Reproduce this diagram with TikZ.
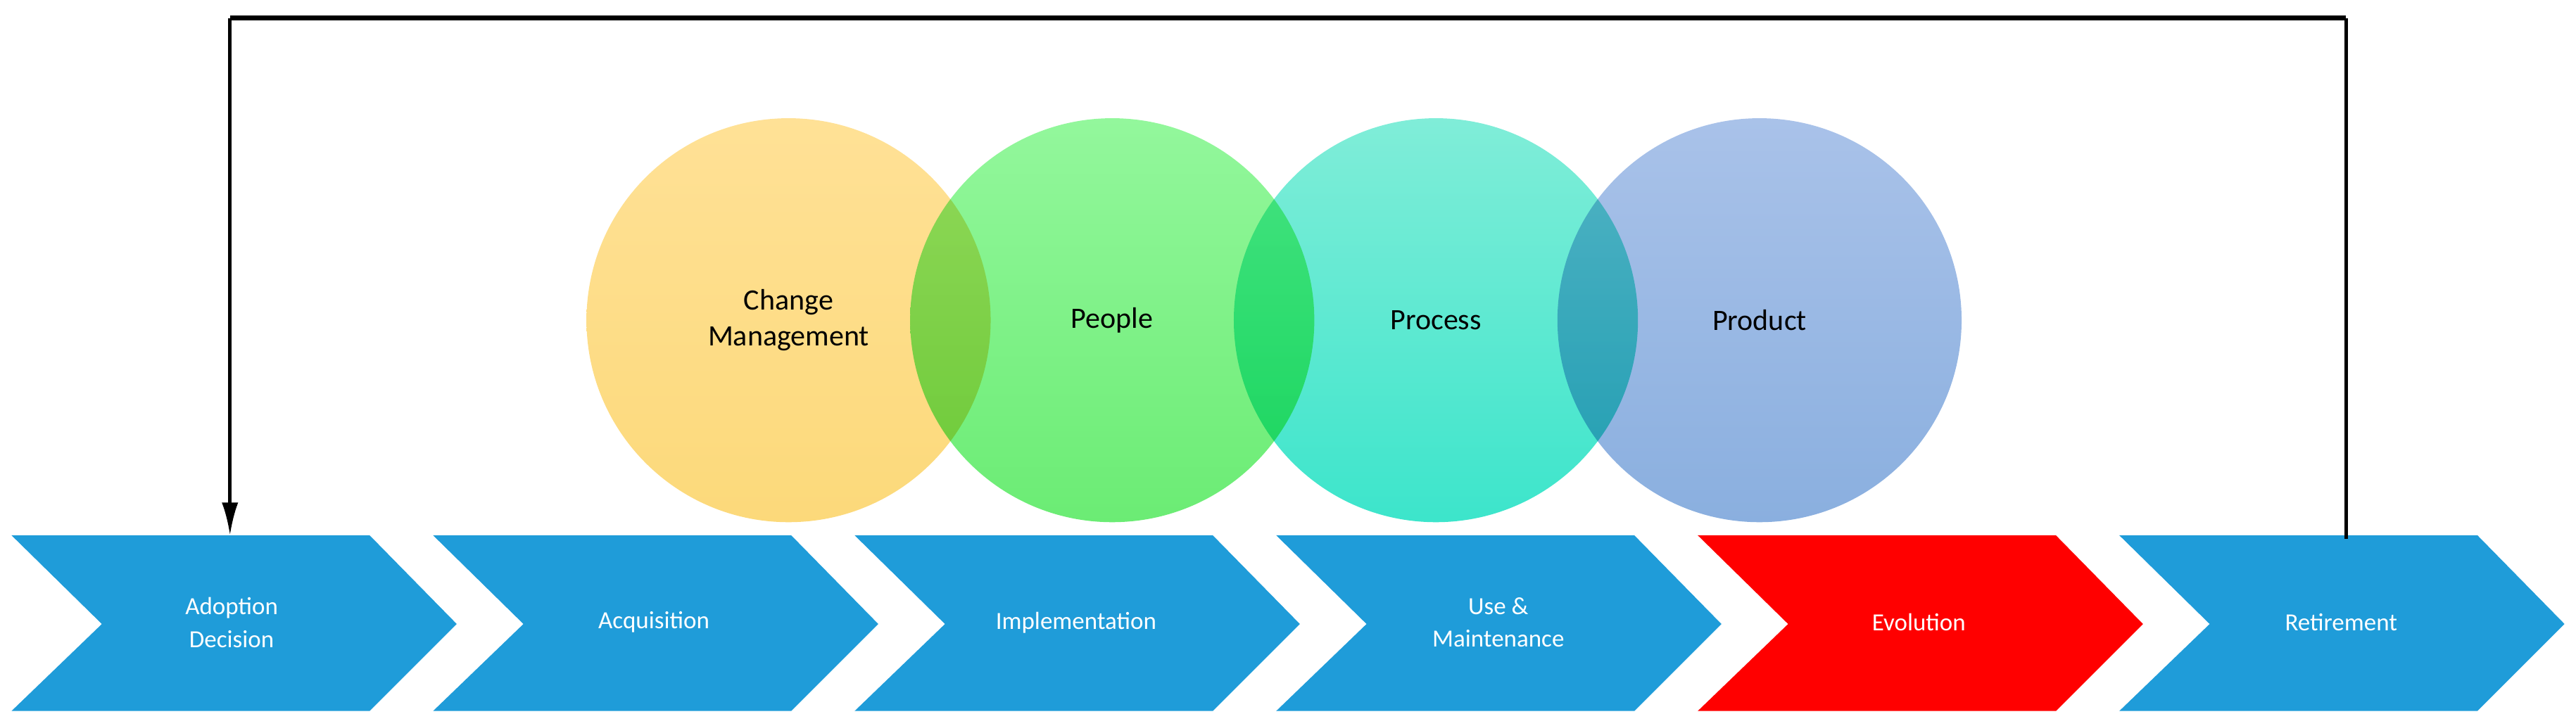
\documentclass[tikz,border=0pt]{standalone}
\usepackage{fontspec}
\setmainfont{Carlito}
\usetikzlibrary{arrows.meta}
\begin{document}
\begin{tikzpicture}[x=1pt,y=-1pt,
  lbl/.style={text=white,align=center,font=\fontsize{15}{20}\selectfont},
  circ/.style={font=\fontsize{18}{22}\selectfont,align=center,text=black}]
\useasboundingbox (0,0) rectangle (1568,442);
\definecolor{cblue}{HTML}{1F9CD9}
\definecolor{cred}{HTML}{FF0000}
% circles
\foreach \cx/\ct/\cb in {480/FFE196/FCD97A,677/93F79C/6BEC74,874/80EDD8/3CE5CB,1071/A9C2E9/8AAFDF}{
  \definecolor{tc}{HTML}{\ct}\definecolor{bc}{HTML}{\cb}
  \shade[top color=tc,bottom color=bc,blend mode=multiply] (\cx,195) circle (123);
}
\node[circ] (cm) at (480,195) {Change\\Management};
\node[circ] (pe) at (677,195) {People};
\node[circ] (pr) at (874,195) {Process};
\node[circ] (pd) at (1071,195) {Product};
% chevrons
\foreach \i/\c in {0/cblue,1/cblue,2/cblue,3/cblue,4/cred,5/cblue}{
  \pgfmathsetmacro{\xo}{7+256.6*\i}
  \fill[\c] (\xo,326) -- (\xo+218,326) -- (\xo+271,380) -- (\xo+218,433) -- (\xo,433) -- (\xo+55,380) -- cycle;
}
\node[lbl] (c1) at (141,379) {Adoption\\Decision};
\node[lbl] (c2) at (398,379) {Acquisition};
\node[lbl] (c3) at (655,379) {Implementation};
\node[lbl] (c4) at (912,379) {Use \&\\Maintenance};
\node[lbl] (c5) at (1168,379) {Evolution};
\node[lbl] (c6) at (1425,379) {Retirement};
\coordinate (rs) at (1428,328);
\coordinate (ad) at (140,326);
\draw[line width=3pt] (140,11) -- (1428,11);
\draw[line width=2pt] (rs) -- (1428,11);
\draw[line width=2pt,-{Latex[length=20pt,width=10pt]}] (140,11) -- (ad);
\end{tikzpicture}
\end{document}
